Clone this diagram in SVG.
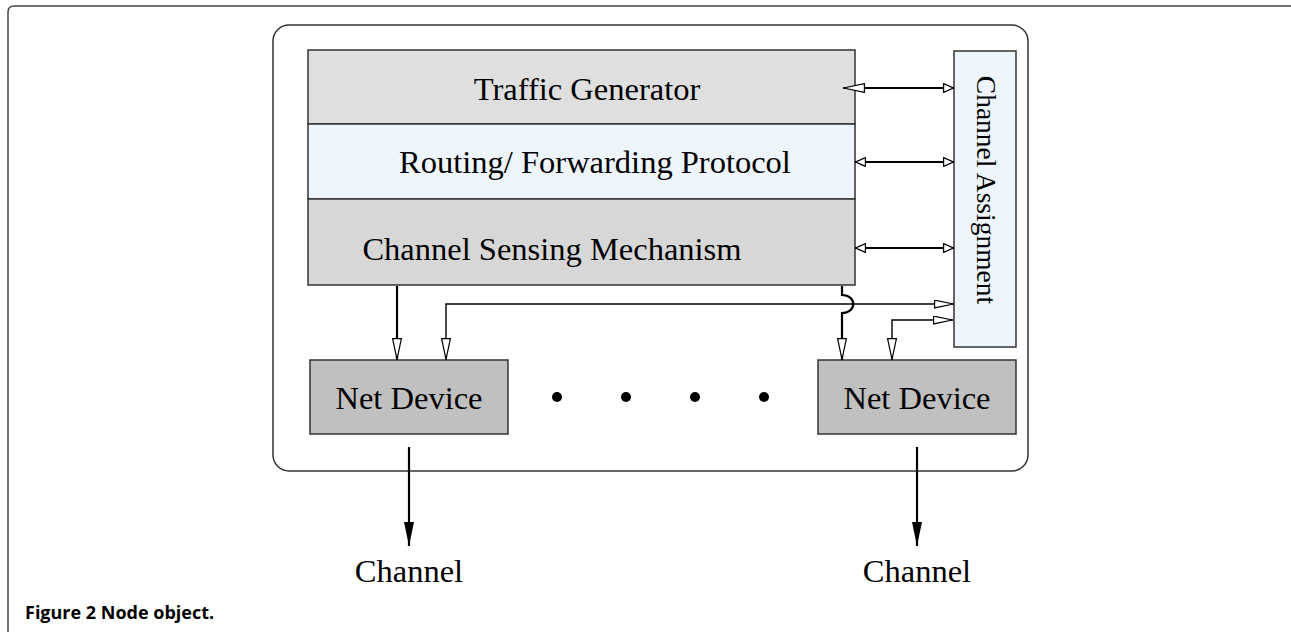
<svg xmlns="http://www.w3.org/2000/svg" width="1291" height="632" viewBox="0 0 1291 632">
<style>
.box{stroke:#333;stroke-width:1.5}
.lbl{font-family:"Liberation Serif","Times New Roman",serif;font-size:32.5px;fill:#000}
.thick{fill:none;stroke:#000;stroke-width:2.2}
.thin{fill:none;stroke:#000;stroke-width:1.4}
.frame{fill:none;stroke:#333;stroke-width:1.5}
</style>
<defs>
<marker id="ol" viewBox="0 0 22 10" refX="22" refY="5" markerWidth="22" markerHeight="10" markerUnits="userSpaceOnUse" orient="auto-start-reverse"><path d="M0.6,0.6 L21.4,5 L0.6,9.4 Z" fill="#fff" stroke="#000" stroke-width="1.2"/></marker>
<marker id="os" viewBox="0 0 11 10" refX="11" refY="5" markerWidth="11" markerHeight="10" markerUnits="userSpaceOnUse" orient="auto-start-reverse"><path d="M0.6,0.6 L10.4,5 L0.6,9.4 Z" fill="#fff" stroke="#000" stroke-width="1.2"/></marker>
<marker id="om" viewBox="0 0 20 9" refX="20" refY="4.5" markerWidth="20" markerHeight="9" markerUnits="userSpaceOnUse" orient="auto-start-reverse"><path d="M0.6,0.6 L19.4,4.5 L0.6,8.4 Z" fill="#fff" stroke="#000" stroke-width="1.2"/></marker>
<marker id="fh" viewBox="0 0 24 10" refX="24" refY="5" markerWidth="24" markerHeight="10" markerUnits="userSpaceOnUse" orient="auto"><path d="M0,0 L24,5 L0,10 Z" fill="#000"/></marker>
</defs>
<rect width="1291" height="632" fill="#fff"/>
<path d="M8,632 L8,12 Q8,6 14,6 L1291,6" fill="none" stroke="#444" stroke-width="1.5"/>
<rect class="frame" x="273" y="25" width="755" height="446" rx="16"/>
<g id="traffic-generator">
<rect class="box" x="308" y="50" width="547" height="74" fill="#dfdfdf"/>
<text class="lbl" x="587" y="100" text-anchor="middle">Traffic Generator</text>
</g>
<g id="routing">
<rect class="box" x="308" y="124" width="547" height="75" fill="#eef5fc"/>
<text class="lbl" x="595" y="173" text-anchor="middle">Routing/ Forwarding Protocol</text>
</g>
<g id="channel-sensing">
<rect class="box" x="308" y="199" width="547" height="86" fill="#d7d7d7"/>
<text class="lbl" x="552" y="260" text-anchor="middle">Channel Sensing Mechanism</text>
</g>
<g id="channel-assignment">
<rect class="box" x="954" y="51" width="62" height="296" fill="#eef5fc"/>
<text class="lbl" style="font-size:27.5px" transform="translate(977,190) rotate(90)" text-anchor="middle">Channel Assignment</text>
</g>
<g id="net-device-1">
<rect class="box" x="310" y="360" width="198" height="74" fill="#c0c0c0"/>
<text class="lbl" x="409" y="409" text-anchor="middle">Net Device</text>
</g>
<g id="net-device-2">
<rect class="box" x="818" y="360" width="198" height="74" fill="#c0c0c0"/>
<text class="lbl" x="917" y="409" text-anchor="middle">Net Device</text>
</g>
<g id="ellipsis">
<circle cx="557" cy="397" r="5"/>
<circle cx="626" cy="397" r="5"/>
<circle cx="695" cy="397" r="5"/>
<circle cx="764" cy="397" r="5"/>
</g>
<g id="channel-1"><text class="lbl" x="409" y="582" text-anchor="middle">Channel</text></g>
<g id="channel-2"><text class="lbl" x="917" y="582" text-anchor="middle">Channel</text></g>
<g id="connectors">
<path class="thick" d="M843,88 L954,88" marker-start="url(#ol)" marker-end="url(#os)"/>
<path class="thick" d="M855,162 L954,162" marker-start="url(#os)" marker-end="url(#os)"/>
<path class="thick" d="M855,248 L954,248" marker-start="url(#os)" marker-end="url(#os)"/>
<path class="thick" d="M397,286 L397,360" marker-end="url(#ol)"/>
<path class="thin" d="M446,360 L446,304 L954,304" marker-start="url(#ol)" marker-end="url(#om)"/>
<path class="thick" d="M842,286 L842,295 C857,295 857,313 842,313 L842,360" marker-end="url(#ol)"/>
<path class="thin" d="M892,360 L892,320 L953,320" marker-start="url(#ol)" marker-end="url(#om)"/>
<path class="thick" d="M409,447 L409,546" marker-end="url(#fh)"/>
<path class="thick" d="M917,447 L917,546" marker-end="url(#fh)"/>
</g>
<text x="25" y="619" style="font-family:'Open Sans','Liberation Sans',sans-serif;font-weight:bold;font-size:18px">Figure 2 Node object.</text>
</svg>
